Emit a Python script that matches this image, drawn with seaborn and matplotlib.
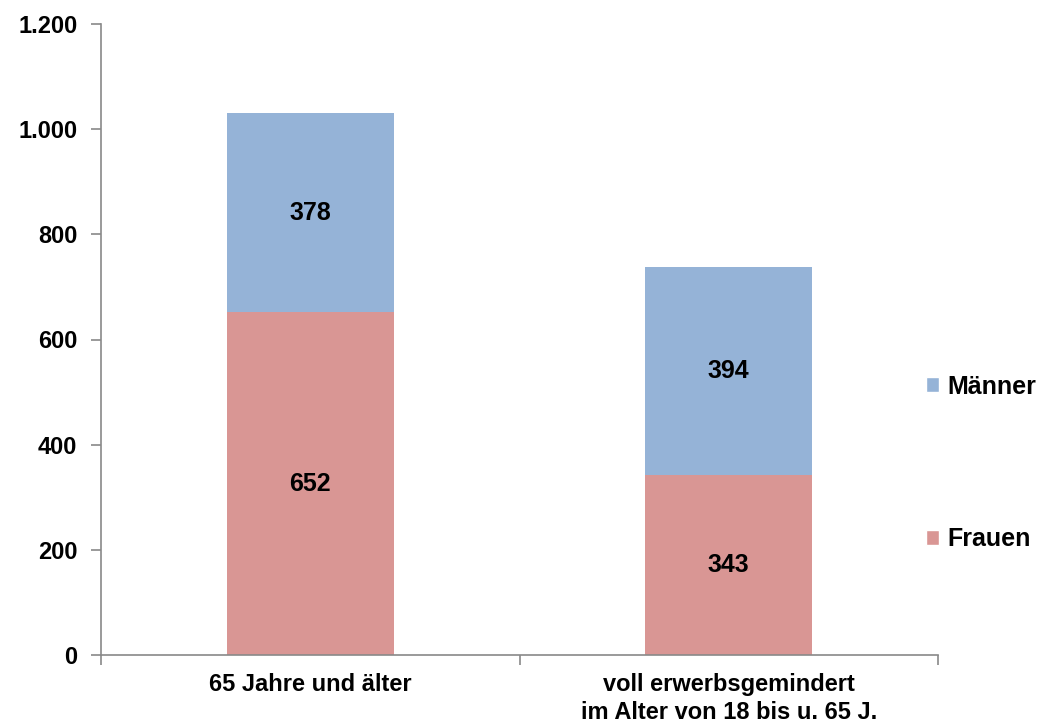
import matplotlib
matplotlib.use("Agg")
import matplotlib.pyplot as plt
import seaborn as sns
import pandas as pd
from matplotlib.ticker import FuncFormatter, FixedLocator
from matplotlib.patches import Patch

categories = ["65 Jahre und älter", "voll erwerbsgemindert\nim Alter von 18 bis u. 65 J."]
frauen = [652, 343]
maenner = [378, 394]
yticks = [0, 200, 400, 600, 800, 1000, 1200]

col_frauen = "#D99694"
col_maenner = "#95B3D7"

sns.set_theme(style="white")
plt.rcParams['font.family'] = ['Liberation Sans', 'DejaVu Sans']
plt.rcParams['text.color'] = 'black'
plt.rcParams['xtick.color'] = 'black'
plt.rcParams['ytick.color'] = 'black'

df = pd.DataFrame({"cat": categories, "Frauen": frauen, "Männer": maenner})
df["total"] = df["Frauen"] + df["Männer"]

fig = plt.figure(figsize=(10.42, 7.27), dpi=100)
ax = fig.add_axes([101/1042, 1-655/727, (938-101)/1042, (655-24)/727])

sns.barplot(data=df, x="cat", y="total", color=col_maenner, width=0.4,
            saturation=1, ax=ax, linewidth=0)
sns.barplot(data=df, x="cat", y="Frauen", color=col_frauen, width=0.4,
            saturation=1, ax=ax, linewidth=0)

FS = 17
FS_BIG = 18
ax.bar_label(ax.containers[1], labels=[str(v) for v in frauen], label_type="center",
             fontsize=FS_BIG, fontweight="bold", color="black")
for i, (f, m) in enumerate(zip(frauen, maenner)):
    ax.text(i, f + m / 2, str(m), ha="center", va="center",
            fontsize=FS_BIG, fontweight="bold", color="black")

ax.set_xlim(-0.5, 1.5)
ax.set_ylim(0, 1200)
ax.set_yticks(yticks)
ax.yaxis.set_major_formatter(FuncFormatter(lambda v, p: f"{int(v):,}".replace(",", ".")))
ax.set_xlabel("")
ax.set_ylabel("")

for s in ["top", "right"]:
    ax.spines[s].set_visible(False)
for s in ["left", "bottom"]:
    ax.spines[s].set_color("#898989")
    ax.spines[s].set_linewidth(1.2)

ax.tick_params(axis="y", which="major", direction="out", length=7, width=1.2,
               color="#898989", labelcolor="black", pad=10, labelsize=FS, left=True)
for lab in ax.get_yticklabels():
    lab.set_fontweight("bold")

ax.xaxis.set_minor_locator(FixedLocator([-0.5, 0.5, 1.5]))
ax.tick_params(axis="x", which="major", length=0, pad=13, labelcolor="black")
ax.tick_params(axis="x", which="minor", direction="out", length=7, width=1.2,
               color="#898989", bottom=True)
ax.set_xticks([0, 1])
ax.set_xticklabels(categories, fontsize=FS, fontweight="bold", linespacing=1.25)

handles = [Patch(facecolor=col_maenner, label="Männer"),
           Patch(facecolor=col_frauen, label="Frauen")]
leg = fig.legend(handles=handles, loc="center left", bbox_to_anchor=(903/1042, 1-463/727),
                 frameon=False, handlelength=0.55, handleheight=0.55,
                 labelspacing=5.15, handletextpad=0.34,
                 prop={"weight": "bold", "size": FS_BIG})
for t in leg.get_texts():
    t.set_color("black")

fig.savefig("out.png", dpi=100)
